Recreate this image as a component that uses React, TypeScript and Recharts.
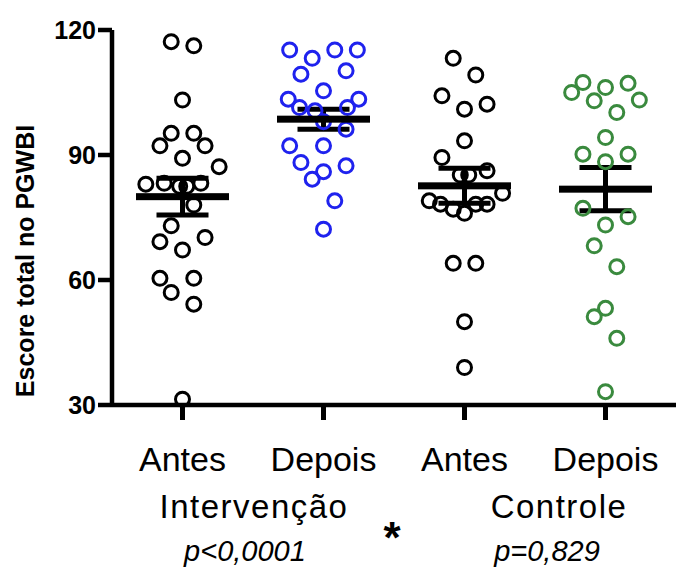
import { ScatterChart, Scatter, XAxis, YAxis, ErrorBar } from "recharts";

const categories = ["Antes", "Depois", "Antes", "Depois"];
const groupLabels = ["Intervenção", "Controle"];
const pLabels = ["p<0,0001", "p=0,829"];
const yTicks = [30, 60, 90, 120];

// valores, deslocamento horizontal (jitter) em unidades de categoria
const antesInt = [117.2, 116.2, 103.2, 95.2, 95.2, 92.2, 92.2, 89.2, 87.2, 83, 83.2, 82.5, 82.5, 83.2, 78, 73, 69.2, 70.2, 67.2, 60.4, 60.4, 57, 54.2, 31.4];
const antesIntJitter = [-0.08, 0.08, 0, -0.08, 0.08, -0.16, 0.16, 0, 0.26, -0.26, -0.13, -0.02, 0.03, 0.13, 0.08, -0.08, -0.16, 0.16, 0, -0.16, 0.08, -0.08, 0.08, 0];

const depoisInt = [115.2, 113.2, 115.2, 115.2, 109.4, 110.2, 105.4, 103.4, 103.4, 101.4, 100.6, 101.4, 98, 96.2, 92.2, 92.2, 88.2, 87.4, 86, 84.2, 79, 72.2];
const depoisIntJitter = [-0.24, -0.08, 0.08, 0.24, -0.16, 0.16, 0, -0.25, 0.25, -0.17, -0.06, 0.17, 0, 0.16, -0.24, 0, -0.16, 0.16, 0, -0.08, 0.08, 0];

const antesCtrl = [113.2, 109.2, 104.2, 101, 102.2, 93.4, 89.4, 86.2, 85.2, 85.2, 80.8, 79, 78.2, 77, 76, 78.2, 78.2, 64, 64, 50, 39];
const antesCtrlJitter = [-0.08, 0.08, -0.16, 0, 0.16, 0, -0.16, 0.16, -0.03, 0.03, 0.27, -0.25, -0.17, -0.08, 0, 0.08, 0.16, -0.08, 0.08, 0, 0];

const depoisCtrl = [105, 107.4, 103, 106.2, 107.2, 103.2, 100.2, 94.2, 90.2, 90.2, 88.4, 77.2, 75.2, 73.2, 68.2, 63.2, 53.2, 51.2, 46, 33.2];
const depoisCtrlJitter = [-0.24, -0.16, -0.08, 0, 0.16, 0.24, 0.08, 0, -0.16, 0.16, 0, -0.16, 0.16, 0, -0.08, 0.08, 0, -0.08, 0.08, 0];

const means = [80, 98.6, 82.6, 81.8];
const sems = [4.4, 2.4, 4.2, 5.2];

const FONT = "'Liberation Sans', Arial, Helvetica, sans-serif";

const toPoints = (vals: number[], jit: number[], pos: number) =>
  vals.map((v, i) => ({ x: pos + jit[i], y: v }));

const series = [
  { data: toPoints(antesInt, antesIntJitter, 1), color: "#000000" },
  { data: toPoints(depoisInt, depoisIntJitter, 2), color: "#1f22ee" },
  { data: toPoints(antesCtrl, antesCtrlJitter, 3), color: "#000000" },
  { data: toPoints(depoisCtrl, depoisCtrlJitter, 4), color: "#3a8a3e" },
];

const meanData = means.map((m, i) => ({ x: i + 1, y: m, sem: sems[i] }));

const ring = (color: string) => (props: any) => (
  <circle cx={props.cx} cy={props.cy} r={7} fill="none" stroke={color} strokeWidth={3} />
);

const meanBar = (props: any) => (
  <rect x={props.cx - 46.5} y={props.cy - 3.5} width={93} height={7} fill="#000" />
);

const YTick = (props: any) => (
  <text
    x={props.x}
    y={props.y}
    dy={9}
    textAnchor="end"
    fontFamily={FONT}
    fontWeight="bold"
    fontSize={25}
    fill="#000"
  >
    {props.payload.value}
  </text>
);

const YTitle = () => (
  <text
    x={25}
    y={261}
    transform="rotate(-90 25 261)"
    textAnchor="middle"
    dominantBaseline="central"
    fontFamily={FONT}
    fontWeight="bold"
    fontSize={25}
    fill="#000"
  >
    Escore total no PGWBI
  </text>
);

export default function App() {
  return (
    <div style={{ position: "absolute", left: 0, top: 0, width: 678, height: 568, background: "#fff" }}>
      <ScatterChart width={678} height={568} margin={{ top: 30, right: 2, bottom: 103, left: 0 }}>
        <XAxis
          type="number"
          dataKey="x"
          domain={[0.5, 4.5]}
          ticks={[1, 2, 3, 4]}
          tickFormatter={(v: number) => categories[v - 1]}
          height={60}
          tickSize={15}
          tickMargin={27}
          axisLine={{ stroke: "#000", strokeWidth: 4.5 }}
          tickLine={{ stroke: "#000", strokeWidth: 5 }}
          tick={{ fontSize: 34, fill: "#000", fontFamily: FONT }}
        />
        <YAxis
          type="number"
          dataKey="y"
          domain={[30, 120]}
          ticks={yTicks}
          width={112}
          tickSize={14}
          tickMargin={2}
          axisLine={{ stroke: "#000", strokeWidth: 4.5 }}
          tickLine={{ stroke: "#000", strokeWidth: 4.5 }}
          tick={<YTick />}
          label={{ content: () => <YTitle /> }}
        />
        {series.map((s, i) => (
          <Scatter key={i} data={s.data} shape={ring(s.color)} isAnimationActive={false} />
        ))}
        <Scatter data={meanData} shape={meanBar} isAnimationActive={false}>
          <ErrorBar dataKey="sem" direction="y" width={26} stroke="#000" strokeWidth={5} />
        </Scatter>
      </ScatterChart>
      <svg
        width={678}
        height={568}
        style={{ position: "absolute", left: 0, top: 0, pointerEvents: "none" }}
        fontFamily={FONT}
      >
        <text x={254} y={518} textAnchor="middle" fontSize={33} letterSpacing={1.5} fill="#000">
          {groupLabels[0]}
        </text>
        <text x={559} y={518} textAnchor="middle" fontSize={33} letterSpacing={1.5} fill="#000">
          {groupLabels[1]}
        </text>
        <text x={245} y={561} textAnchor="middle" fontSize={29} fontStyle="italic" fill="#000">
          {pLabels[0]}
        </text>
        <text x={547} y={561} textAnchor="middle" fontSize={29} fontStyle="italic" fill="#000">
          {pLabels[1]}
        </text>
        <text x={392} y={553} textAnchor="middle" fontSize={44} fontWeight="bold" fill="#000">
          *
        </text>
      </svg>
    </div>
  );
}
